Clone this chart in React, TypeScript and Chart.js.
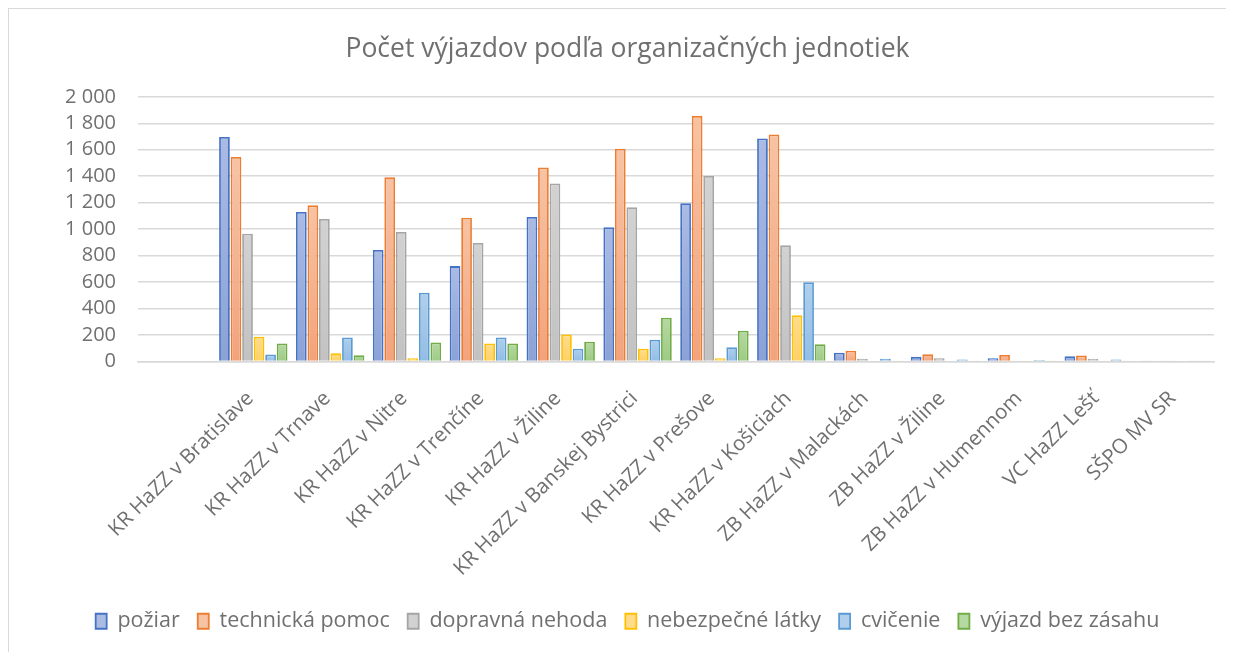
import React, { useEffect, useRef } from "react";
import { Chart, registerables } from "chart.js";

Chart.register(...registerables);

const categories = [
  "",
  "KR HaZZ v Bratislave",
  "KR HaZZ v Trnave",
  "KR HaZZ v Nitre",
  "KR HaZZ v Trenčíne",
  "KR HaZZ v Žiline",
  "KR HaZZ v Banskej Bystrici",
  "KR HaZZ v Prešove",
  "KR HaZZ v Košiciach",
  "ZB HaZZ v Malackách",
  "ZB HaZZ v Žiline",
  "ZB HaZZ v Humennom",
  "VC HaZZ Lešť",
  "SŠPO MV SR",
];

const pozar = [null, 1697, 1130, 842, 721, 1092, 1014, 1196, 1685, 66, 35, 25, 40, 2];
const technickaPomoc = [null, 1545, 1180, 1392, 1087, 1466, 1607, 1856, 1715, 81, 55, 50, 45, 3];
const dopravnaNehoda = [null, 966, 1077, 978, 895, 1345, 1165, 1402, 878, 20, 25, 3, 20, 1];
const nebezpecneLatky = [null, 187, 63, 25, 136, 204, 96, 25, 350, 5, 6, 2, 3, 0];
const cvicenie = [null, 53, 182, 520, 182, 96, 164, 108, 598, 20, 15, 12, 15, 2];
const vyjazdBezZasahu = [null, 136, 48, 144, 136, 149, 331, 232, 131, 8, 3, 2, 3, 2];

const seriesNames = [
  "požiar",
  "technická pomoc",
  "dopravná nehoda",
  "nebezpečné látky",
  "cvičenie",
  "výjazd bez zásahu",
];

const borderColors = ["#4472C4", "#ED7D31", "#A5A5A5", "#FFC000", "#5B9BD5", "#70AD47"];
const lightColors = ["#AABBE4", "#F7C3A5", "#D2D2D2", "#FFDC8C", "#B0CFEC", "#B6D8A2"];
const darkColors = ["#8BA2D7", "#F2A37C", "#C2C2C2", "#FFD166", "#92BDE4", "#9DCB84"];

const yTicks = { min: 0, max: 2000, step: 200 };

const title = "Počet výjazdov podľa organizačných jednotiek";

const fmt = (v: number) => String(v).replace(/\B(?=(\d{3})+(?!\d))/g, " ");

export default function App() {
  const ref = useRef<HTMLCanvasElement | null>(null);

  useEffect(() => {
    if (!ref.current) return;
    const allSeries = [pozar, technickaPomoc, dopravnaNehoda, nebezpecneLatky, cvicenie, vyjazdBezZasahu];
    const textColor = "#707070";
    const chart = new Chart(ref.current, {
      type: "bar",
      data: {
        labels: categories,
        datasets: allSeries.map((d, i) => ({
          label: seriesNames[i],
          data: d,
          borderColor: borderColors[i],
          borderWidth: 1.8,
          backgroundColor: (ctx: any) => {
            if (ctx.type !== "data" || ctx.parsed == null) return lightColors[i];
            const c = ctx.chart;
            const ys = c.scales && c.scales.y;
            if (!ys || !c.chartArea) return lightColors[i];
            const top = ys.getPixelForValue(ctx.parsed.y || 0);
            const bottom = ys.getPixelForValue(0);
            if (!isFinite(top) || !isFinite(bottom) || bottom - top < 2) return lightColors[i];
            const g = c.ctx.createLinearGradient(0, top, 0, bottom);
            g.addColorStop(0, lightColors[i]);
            g.addColorStop(1, darkColors[i]);
            return g;
          },
          categoryPercentage: 0.9,
          barPercentage: 0.93,
        })),
      },
      options: {
        responsive: false,
        animation: false,
        layout: { padding: { left: 32, right: 19, top: 0, bottom: 9 } },
        font: { family: "'Open Sans'" },
        plugins: {
          title: {
            display: true,
            text: title,
            color: textColor,
            font: { family: "'Open Sans'", size: 26.5, weight: "normal" },
            padding: { top: 25, bottom: 31 },
          },
          legend: {
            position: "bottom",
            labels: {
              color: textColor,
              font: { family: "'Open Sans'", size: 21.5 },
              boxWidth: 11,
              boxHeight: 15,
              padding: 18,
            },
          },
          tooltip: { enabled: false },
        },
        scales: {
          x: {
            grid: { display: false },
            border: { display: true, color: "#d9d9d9", width: 1.5 },
            ticks: {
              autoSkip: false,
              minRotation: 45,
              maxRotation: 45,
              color: textColor,
              font: { family: "'Open Sans'", size: 20.5 },
              padding: 17,
              labelOffset: -3,
            },
            afterFit: (s: any) => {
              s.height = 231;
            },
          },
          y: {
            min: yTicks.min,
            max: yTicks.max,
            grid: { color: "#d9d9d9", lineWidth: 1.5, drawTicks: false },
            border: { display: false },
            ticks: {
              stepSize: yTicks.step,
              autoSkip: false,
              color: textColor,
              font: { family: "'Open Sans'", size: 20 },
              padding: 22,
              callback: (v: any) => fmt(Number(v)),
            },
            afterFit: (s: any) => {
              s.width = 97;
            },
          },
        },
      } as any,
    });
    return () => chart.destroy();
  }, []);

  return (
    <div
      style={{
        width: 1226,
        height: 644,
        borderTop: "1.5px solid #d9d9d9",
        borderLeft: "1.5px solid #d9d9d9",
        boxSizing: "border-box",
        overflow: "hidden",
      }}
    >
      <canvas ref={ref} width={1224} height={642} style={{ display: "block" }} />
    </div>
  );
}
